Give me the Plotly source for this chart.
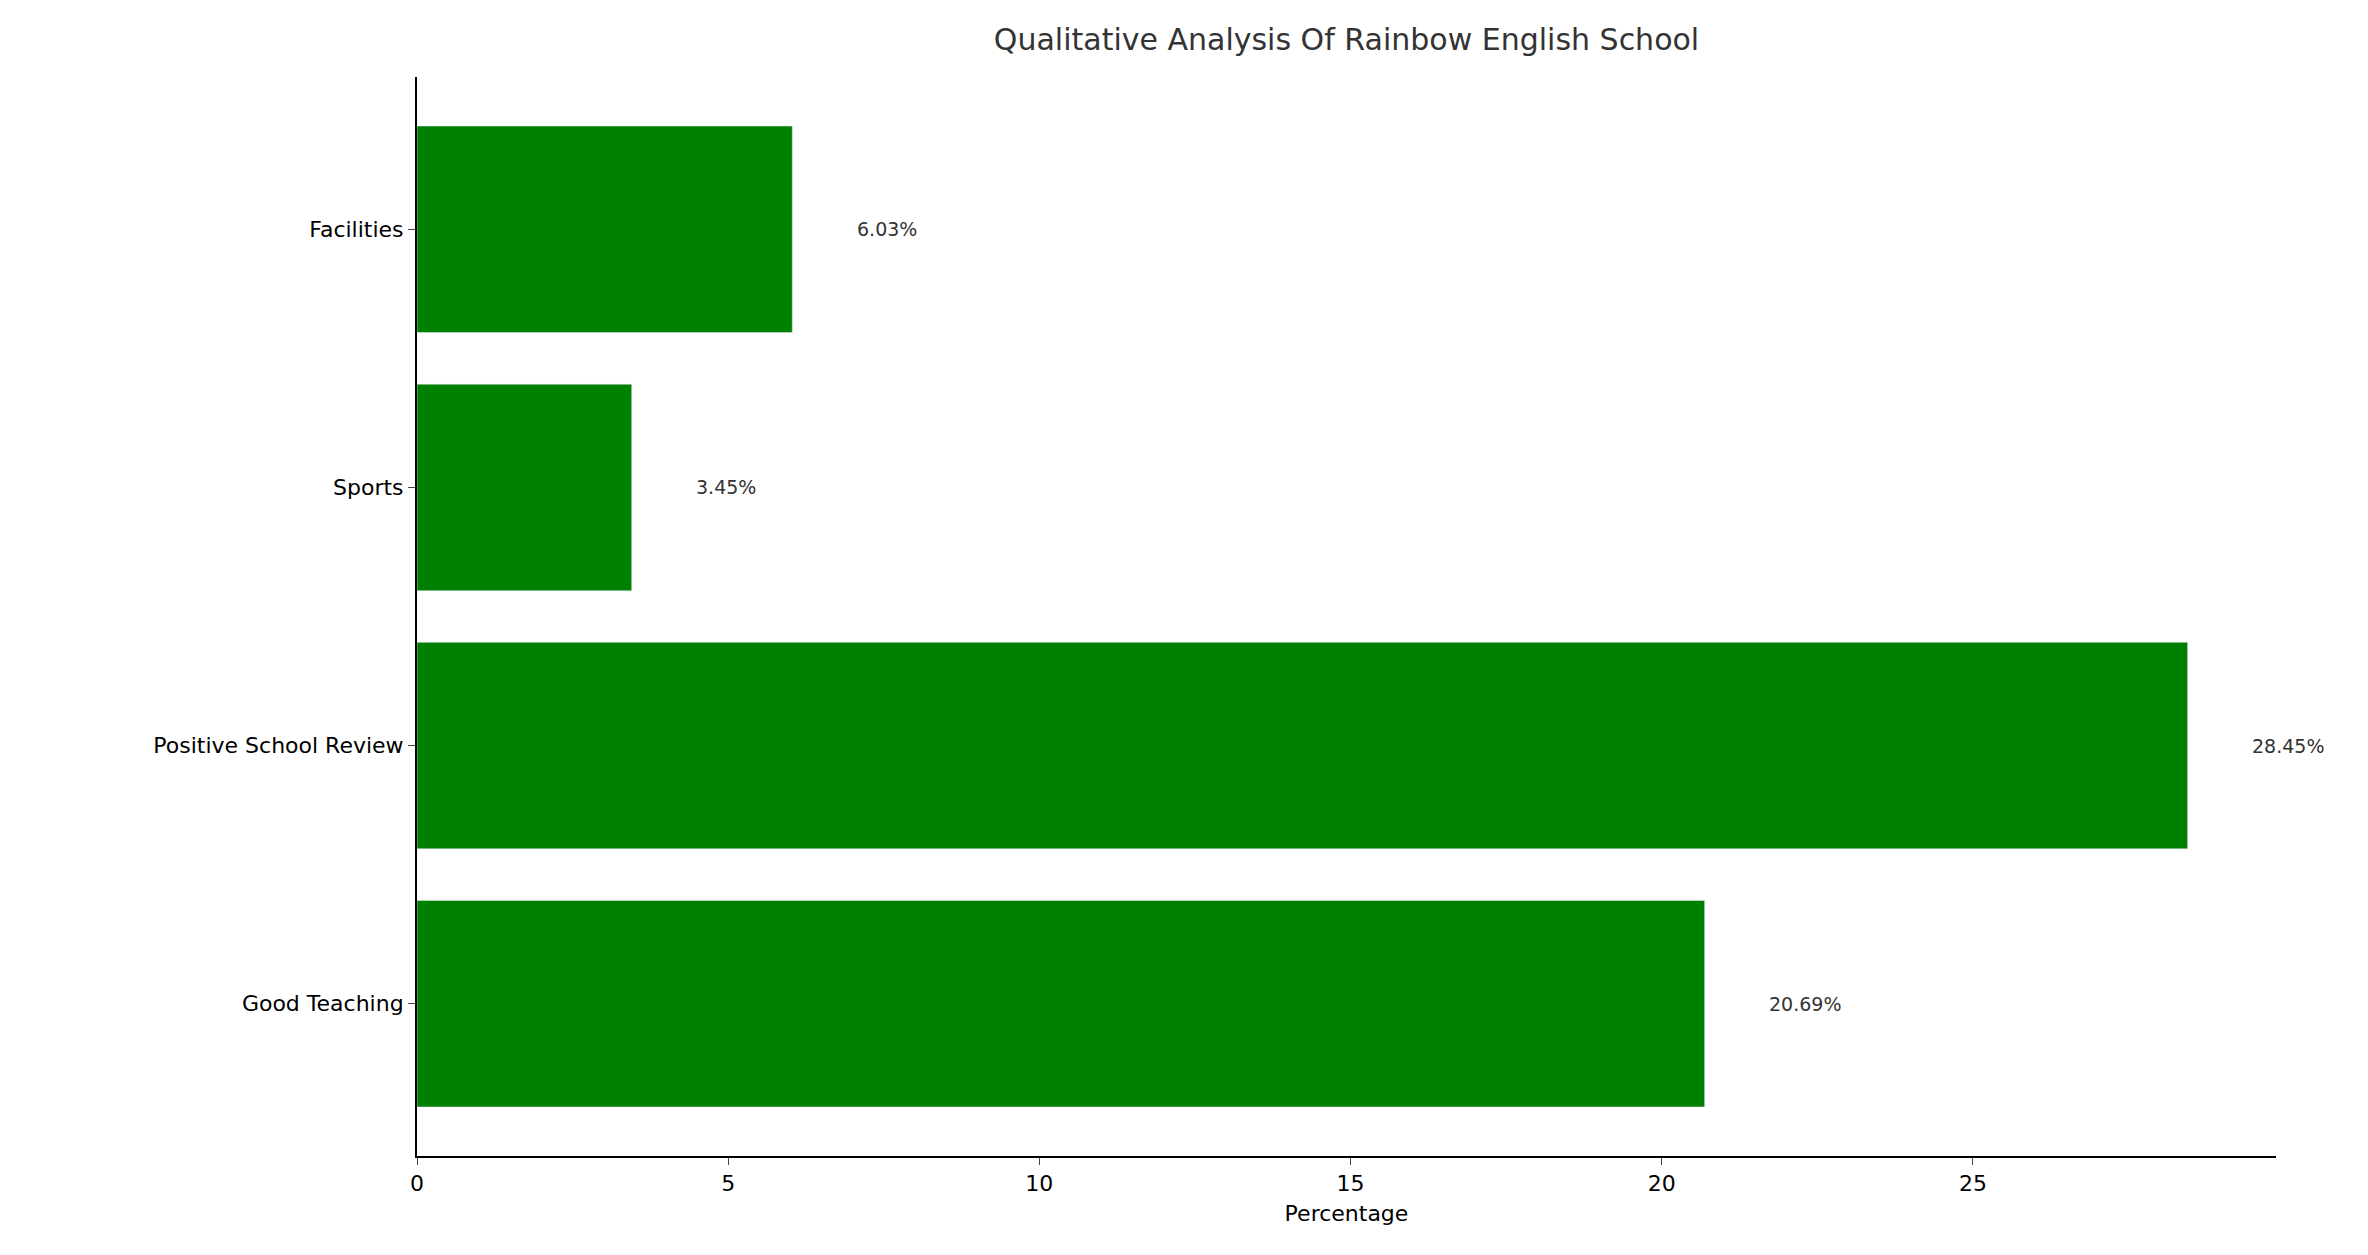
import plotly.graph_objects as go

categories = ["Good Teaching", "Positive School Review", "Sports", "Facilities"]
values = [20.69, 28.45, 3.45, 6.03]
labels = ["20.69%", "28.45%", "3.45%", "6.03%"]

fig = go.Figure(go.Bar(
    x=values, y=categories, orientation="h",
    marker_color="#008000", width=0.8,
))

for v, c, t in zip(values, categories, labels):
    fig.add_annotation(x=v + 1, y=c, text=t, showarrow=False, xanchor="left",
                       font=dict(size=19, color="#333333"))

fig.update_layout(
    width=2368, height=1255,
    plot_bgcolor="white", paper_bgcolor="white",
    font=dict(family="DejaVu Sans", color="black"),
    title=dict(text="Qualitative Analysis Of Rainbow English School", x=0.5, xref="paper",
               y=0.975, yanchor="middle", font=dict(size=30, color="#333333")),
    margin=dict(l=409, r=100, t=69, b=107),
    showlegend=False,
    xaxis=dict(range=[0, 29.87], tickvals=[0, 5, 10, 15, 20, 25], showgrid=False, zeroline=False,
               showline=True, linecolor="black", linewidth=2, ticks="outside", ticklen=7,
               tickfont=dict(size=22), title=dict(text="Percentage", font=dict(size=22), standoff=10)),
    yaxis=dict(range=[-0.59, 3.59], showgrid=False, zeroline=False,
               showline=True, linecolor="black", linewidth=2, ticks="outside", ticklen=7,
               tickfont=dict(size=22)),
)

fig.write_html("out.html")
